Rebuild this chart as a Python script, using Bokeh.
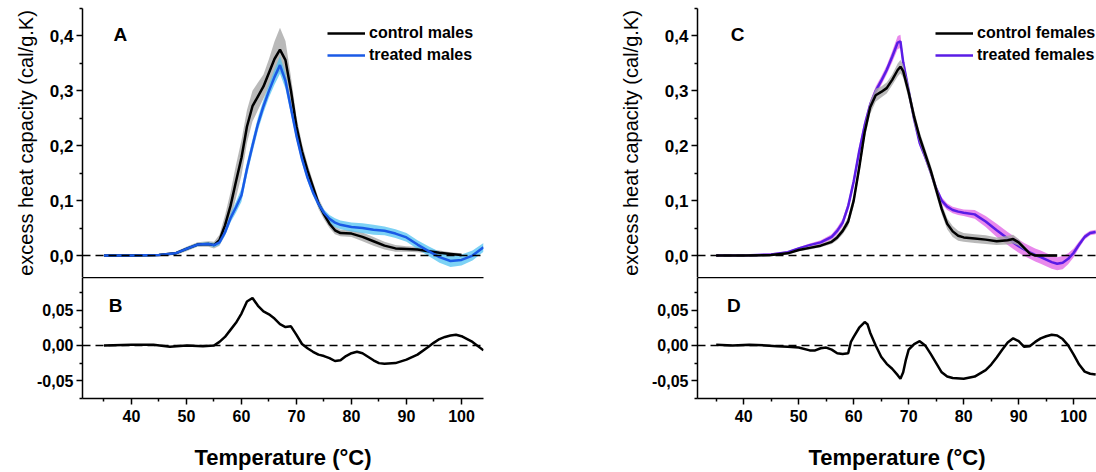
import numpy as np
from bokeh.plotting import figure
from bokeh.layouts import row, column
from bokeh.models import Range1d, FixedTicker, LinearAxis, Span, Label, Legend, LegendItem
from bokeh.embed import file_html
from bokeh.resources import INLINE

# ---------------- data ----------------
temp_A = [35, 40, 45, 48, 50, 52, 54, 55, 56, 57, 58, 59, 60, 61, 62, 63, 64, 65, 66, 67, 68, 69,
          70, 71, 72, 73, 74, 75, 76, 77, 78, 80, 82, 84, 86, 88, 90, 92, 94, 96, 98, 100, 102, 104]
control_males = [0.000, 0.000, 0.001, 0.004, 0.012, 0.020, 0.021, 0.019, 0.028, 0.055, 0.090, 0.135,
                 0.178, 0.235, 0.272, 0.290, 0.308, 0.333, 0.358, 0.375, 0.356, 0.300, 0.235, 0.190,
                 0.155, 0.125, 0.095, 0.075, 0.058, 0.046, 0.041, 0.040, 0.034, 0.026, 0.018, 0.013,
                 0.012, 0.011, 0.008, 0.005, 0.003, 0.001]
sd_control_males = [0.002, 0.002, 0.002, 0.003, 0.004, 0.004, 0.005, 0.006, 0.010, 0.018, 0.025, 0.030,
                    0.032, 0.030, 0.028, 0.025, 0.022, 0.025, 0.032, 0.040, 0.035, 0.025, 0.018, 0.014,
                    0.012, 0.010, 0.010, 0.009, 0.008, 0.007, 0.006, 0.006, 0.008, 0.008, 0.007, 0.006,
                    0.005, 0.005, 0.004, 0.004, 0.003, 0.003]
treated_males = [0.000, 0.000, 0.001, 0.004, 0.012, 0.020, 0.021, 0.019, 0.024, 0.042, 0.068, 0.088,
                 0.110, 0.158, 0.200, 0.240, 0.272, 0.300, 0.325, 0.347, 0.318, 0.268, 0.218, 0.176,
                 0.142, 0.115, 0.094, 0.078, 0.067, 0.060, 0.056, 0.052, 0.050, 0.047, 0.045, 0.040,
                 0.033, 0.020, 0.008, -0.003, -0.010, -0.008, 0.000, 0.015]
sd_treated_males = [0.002, 0.002, 0.002, 0.002, 0.003, 0.003, 0.003, 0.004, 0.005, 0.006, 0.008, 0.010,
                    0.012, 0.012, 0.012, 0.012, 0.012, 0.012, 0.014, 0.016, 0.014, 0.010, 0.008, 0.007,
                    0.006, 0.006, 0.006, 0.006, 0.007, 0.008, 0.008, 0.008, 0.009, 0.009, 0.008, 0.008,
                    0.008, 0.008, 0.009, 0.010, 0.011, 0.010, 0.009, 0.008]

temp_B = [35, 40, 44, 47, 50, 53, 55, 56, 57, 58, 59, 60, 61, 62, 63, 64, 65, 66, 67, 68, 69, 70,
          71, 72, 73, 74, 75, 76, 77, 78, 79, 80, 81, 82, 83, 84, 85, 86, 88, 90, 92, 94, 95, 96,
          97, 98, 99, 100, 102, 104]
diff_B = [0.000, 0.001, 0.001, -0.002, 0.000, -0.001, 0.000, 0.005, 0.012, 0.022, 0.032, 0.045,
          0.062, 0.067, 0.056, 0.048, 0.044, 0.038, 0.030, 0.026, 0.027, 0.015, 0.002, -0.004,
          -0.009, -0.013, -0.015, -0.018, -0.022, -0.021, -0.015, -0.011, -0.009, -0.011, -0.016,
          -0.021, -0.025, -0.026, -0.025, -0.020, -0.013, -0.002, 0.004, 0.009, 0.012, 0.014,
          0.015, 0.013, 0.005, -0.007]

temp_C = [35, 40, 45, 48, 50, 52, 54, 56, 57, 58, 59, 60, 61, 62, 63, 64, 65, 66, 67, 68, 68.5, 69,
          70, 71, 72, 73, 74, 75, 76, 77, 78, 79, 80, 82, 84, 86, 88, 89, 90, 91, 92, 93, 94, 96,
          97, 98, 99, 100, 101, 102, 103, 104]
control_females = [0.000, 0.000, 0.001, 0.004, 0.010, 0.014, 0.018, 0.025, 0.033, 0.045, 0.062, 0.100,
                   0.160, 0.225, 0.270, 0.292, 0.298, 0.305, 0.320, 0.338, 0.344, 0.336, 0.297, 0.252,
                   0.215, 0.185, 0.155, 0.120, 0.085, 0.058, 0.044, 0.036, 0.033, 0.031, 0.029, 0.026,
                   0.028, 0.030, 0.024, 0.014, 0.004, 0.000, 0.000, 0.000, 0.000]
sd_control_females = [0.002, 0.002, 0.002, 0.002, 0.002, 0.003, 0.003, 0.004, 0.005, 0.006, 0.008, 0.010,
                      0.012, 0.012, 0.012, 0.012, 0.010, 0.010, 0.010, 0.012, 0.012, 0.012, 0.012, 0.012,
                      0.010, 0.010, 0.010, 0.010, 0.010, 0.010, 0.010, 0.009, 0.008, 0.008, 0.008, 0.007,
                      0.008, 0.008, 0.006, 0.004, 0.003, 0.002, 0.002, 0.002, 0.002]
treated_females = [0.000, 0.000, 0.002, 0.006, 0.013, 0.019, 0.024, 0.034, 0.045, 0.060, 0.090, 0.135,
                   0.190, 0.237, 0.275, 0.300, 0.318, 0.338, 0.362, 0.388, 0.390, 0.352, 0.300, 0.248,
                   0.205, 0.180, 0.152, 0.122, 0.100, 0.089, 0.083, 0.080, 0.078, 0.075, 0.062, 0.046,
                   0.031, 0.024, 0.017, 0.011, 0.006, 0.001, -0.003, -0.012, -0.015, -0.013, -0.006,
                   0.005, 0.020, 0.034, 0.041, 0.043]
sd_treated_females = [0.002, 0.002, 0.002, 0.002, 0.002, 0.003, 0.004, 0.005, 0.006, 0.007, 0.008, 0.009,
                      0.010, 0.010, 0.008, 0.008, 0.008, 0.008, 0.010, 0.012, 0.012, 0.010, 0.008, 0.006,
                      0.006, 0.006, 0.006, 0.006, 0.006, 0.006, 0.006, 0.006, 0.006, 0.008, 0.010, 0.012,
                      0.012, 0.012, 0.012, 0.012, 0.012, 0.012, 0.012, 0.012, 0.012, 0.012, 0.010, 0.008,
                      0.006, 0.005, 0.004, 0.004]

temp_D = [35, 38, 41, 44, 46, 48, 50, 52, 53, 54, 55, 56, 57, 58, 59, 59.5, 60, 61, 62, 62.5, 63, 64,
          65, 66, 67, 68, 68.5, 69, 69.5, 70, 71, 72, 73, 74, 75, 76, 77, 78, 80, 82, 84, 85, 86, 87,
          88, 89, 90, 91, 92, 93, 94, 95, 96, 97, 98, 99, 100, 101, 102, 103, 104]
diff_D = [0.001, 0.000, 0.001, 0.000, -0.001, -0.002, -0.003, -0.007, -0.007, -0.004, -0.003, -0.006,
          -0.011, -0.012, -0.011, 0.005, 0.012, 0.025, 0.033, 0.030, 0.018, 0.000, -0.016, -0.026,
          -0.033, -0.042, -0.047, -0.038, -0.020, -0.006, 0.002, 0.006, 0.000, -0.012, -0.025, -0.038,
          -0.044, -0.046, -0.047, -0.044, -0.035, -0.027, -0.017, -0.006, 0.004, 0.010, 0.006, -0.002,
          -0.001, 0.005, 0.010, 0.013, 0.015, 0.014, 0.009, 0.000, -0.013, -0.027, -0.037, -0.040,
          -0.041]

x_ticks = [40, 50, 60, 70, 80, 90, 100]
x_minor = [35, 45, 55, 65, 75, 85, 95, 105]
top_ticks = [0.0, 0.1, 0.2, 0.3, 0.4]
top_tick_labels = ["0,0", "0,1", "0,2", "0,3", "0,4"]
top_minor = [0.05, 0.15, 0.25, 0.35, 0.45]
bot_ticks = [-0.05, 0.0, 0.05]
bot_tick_labels = ["-0,05", "0,00", "0,05"]
bot_minor = [-0.075, -0.025, 0.025, 0.075]

y_label = "excess heat capacity (cal/g.K)"
x_label = "Temperature (\u00b0C)"

FONT = "Liberation Sans"
BLACK = "#000000"
GRAY_BAND = "#a8a8a8"
BLUE = "#1a5ae6"
BLUE_BAND = "#52c3f2"
PURPLE = "#5a1ce6"
PINK_BAND = "#e060e6"


def style_axis(ax, size="15px"):
    ax.axis_line_width = 1.5
    ax.axis_line_color = BLACK
    ax.major_tick_line_width = 1.5
    ax.minor_tick_line_width = 1.5
    ax.major_tick_in = 0
    ax.major_tick_out = 6
    ax.minor_tick_in = 0
    ax.minor_tick_out = 3
    ax.major_label_text_font = FONT
    ax.major_label_text_font_style = "bold"
    ax.major_label_text_font_size = size
    ax.major_label_text_color = BLACK
    ax.major_label_standoff = 3


def base_fig(width, height, xr, yr, left, right, top, bottom):
    p = figure(width=width, height=height, x_range=Range1d(*xr), y_range=Range1d(*yr),
               output_backend="svg", toolbar_location=None, x_axis_location=None,
               min_border_left=left, min_border_right=right, min_border_top=top,
               min_border_bottom=bottom)
    p.outline_line_color = None
    p.xgrid.visible = False
    p.ygrid.visible = False
    p.background_fill_color = "white"
    return p


def top_panel(width, xr, left, right, label_standoff, letter, letter_x, c_t, c_v, c_sd, t_t, t_v, t_sd,
              t_color, t_band, c_name, t_name, treated_first, legend_x):
    p = base_fig(width, 277, xr, (-0.04, 0.45), left, right, 8, 0)
    p.yaxis.ticker = FixedTicker(ticks=top_ticks, minor_ticks=top_minor)
    p.yaxis.major_label_overrides = dict(zip(top_ticks, top_tick_labels))
    style_axis(p.yaxis[0], "17px")
    p.yaxis.axis_label = y_label
    p.yaxis.axis_label_text_font = FONT
    p.yaxis.axis_label_text_font_style = "normal"
    p.yaxis.axis_label_text_font_size = "20px"
    p.yaxis.axis_label_text_color = BLACK
    p.yaxis.axis_label_standoff = label_standoff
    p.add_layout(Span(location=0, dimension="width", line_color=BLACK, line_dash="8 5", line_width=1.5))

    ct = np.array(c_t[:len(c_v)], dtype=float)
    cv = np.array(c_v)
    cs = np.array(c_sd)
    tt = np.array(t_t[:len(t_v)], dtype=float)
    tv = np.array(t_v)
    ts = np.array(t_sd)
    if treated_first:
        p.varea(x=tt, y1=tv - ts, y2=tv + ts, fill_color=t_band, fill_alpha=0.75)
        rt = p.line(tt, tv, line_color=t_color, line_width=2.5)
        p.varea(x=ct, y1=cv - cs, y2=cv + cs, fill_color=GRAY_BAND, fill_alpha=0.8)
        rc = p.line(ct, cv, line_color=BLACK, line_width=2.5)
    else:
        p.varea(x=ct, y1=cv - cs, y2=cv + cs, fill_color=GRAY_BAND, fill_alpha=0.8)
        p.varea(x=tt, y1=tv - ts, y2=tv + ts, fill_color=t_band, fill_alpha=0.75)
        rc = p.line(ct, cv, line_color=BLACK, line_width=2.5)
        rt = p.line(tt, tv, line_color=t_color, line_width=2.5)

    leg = Legend(items=[LegendItem(label=c_name, renderers=[rc]), LegendItem(label=t_name, renderers=[rt])],
                 location=(legend_x, 212), padding=0, margin=0, spacing=2, glyph_width=38,
                 glyph_height=20, label_height=20, label_standoff=4, border_line_color=None,
                 background_fill_alpha=0, label_text_font=FONT, label_text_font_style="bold",
                 label_text_font_size="16px", label_text_color=BLACK)
    p.add_layout(leg, "center")
    p.add_layout(Label(x=letter_x, y=0.402, text=letter, text_font=FONT, text_font_style="bold",
                       text_font_size="19px", text_color=BLACK, text_align="center",
                       text_baseline="middle"))
    return p


def bottom_panel(width, xr, left, right, letter, letter_x, t, d):
    p = base_fig(width, 195, xr, (-0.075, 0.096), left, right, 0, 72)
    p.yaxis.ticker = FixedTicker(ticks=bot_ticks, minor_ticks=bot_minor)
    p.yaxis.major_label_overrides = dict(zip(bot_ticks, bot_tick_labels))
    style_axis(p.yaxis[0], "16px")
    xb = LinearAxis(ticker=FixedTicker(ticks=x_ticks, minor_ticks=x_minor))
    style_axis(xb, "16px")
    xb.major_label_standoff = 5
    xb.axis_label = x_label
    xb.axis_label_text_font = FONT
    xb.axis_label_text_font_style = "bold"
    xb.axis_label_text_font_size = "22px"
    xb.axis_label_text_color = BLACK
    xb.axis_label_standoff = 20
    p.add_layout(xb, "below")
    xa = LinearAxis(ticker=FixedTicker(ticks=[], minor_ticks=[]))
    xa.axis_line_width = 1.5
    xa.major_tick_out = 0
    xa.major_tick_in = 0
    xa.minor_tick_out = 0
    xa.minor_tick_in = 0
    xa.major_label_standoff = 0
    p.add_layout(xa, "above")
    p.add_layout(Span(location=0, dimension="width", line_color=BLACK, line_dash="8 5", line_width=1.5))
    p.line(np.array(t, dtype=float), np.array(d), line_color=BLACK, line_width=2.5)
    p.add_layout(Label(x=letter_x, y=0.057, text=letter, text_font=FONT, text_font_style="bold",
                       text_font_size="19px", text_color=BLACK, text_align="center",
                       text_baseline="middle"))
    return p


xr_left = (31.1, 104.0)
xr_right = (31.6, 104.15)

pA = top_panel(548, xr_left, 82, 65, 10, "A", 38.0, temp_A, control_males, sd_control_males,
               temp_A, treated_males, sd_treated_males, BLUE, BLUE_BAND,
               "control males", "treated males", False, 245)
pB = bottom_panel(548, xr_left, 82, 65, "B", 37.1, temp_B, diff_B)
pC = top_panel(548, xr_right, 149, 0, 20, "C", 38.9, temp_C, control_females, sd_control_females,
               temp_C, treated_females, sd_treated_females, PURPLE, PINK_BAND,
               "control females", "treated females", True, 238)
pD = bottom_panel(548, xr_right, 149, 0, "D", 38.2, temp_D, diff_D)

layout = row(column(pA, pB), column(pC, pD))
open("out.html", "w").write(file_html(layout, INLINE))
